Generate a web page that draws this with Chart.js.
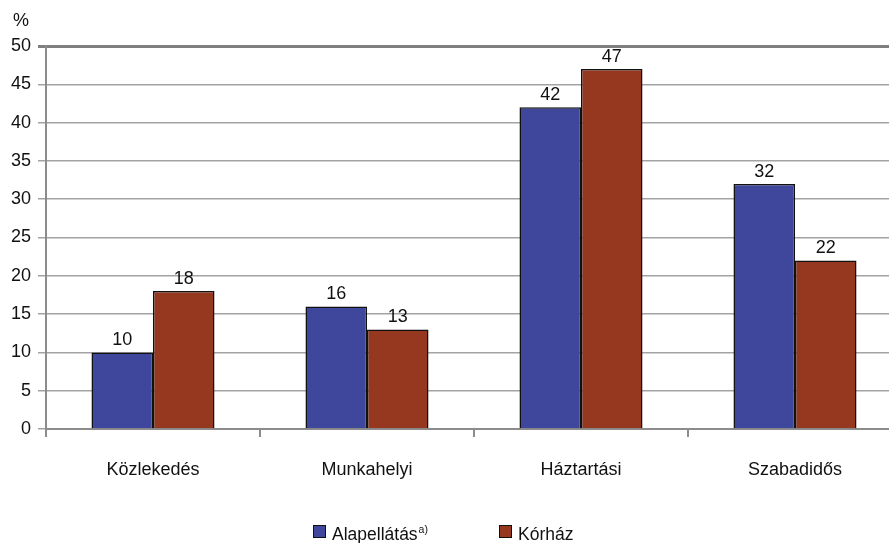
<!DOCTYPE html>
<html>
<head>
<meta charset="utf-8">
<script src="https://cdn.jsdelivr.net/npm/chart.js@4/dist/chart.umd.min.js"></script>
<style>
  html, body { margin: 0; padding: 0; background: #fff; overflow: hidden; }
  #wrap { position: relative; width: 910px; height: 543px; }
</style>
</head>
<body>
<div id="wrap"><canvas id="c"></canvas></div>
<script>
// Injury location shares (%) by care type
const categories = ['Közlekedés', 'Munkahelyi', 'Háztartási', 'Szabadidős'];
const seriesNames = ['Alapellátás', 'Kórház'];
const alapellatas = [10, 16, 42, 32];
const korhaz = [18, 13, 47, 22];
const yTicks = [0, 5, 10, 15, 20, 25, 30, 35, 40, 45, 50];
const seriesColors = ['#3f479d', '#963820'];

const FONT = '"Liberation Sans", Arial, sans-serif';

// value labels above each bar
const valueLabels = {
  id: 'valueLabels',
  afterDatasetsDraw(chart) {
    const ctx = chart.ctx;
    ctx.save();
    ctx.font = '18px ' + FONT;
    ctx.fillStyle = '#111';
    ctx.textAlign = 'center';
    ctx.textBaseline = 'alphabetic';
    chart.data.datasets.forEach((ds, di) => {
      chart.getDatasetMeta(di).data.forEach((bar, i) => {
        ctx.fillText(String(ds.data[i]), bar.x, bar.y - 7);
      });
    });
    ctx.restore();
  }
};

// unit label, and legend with superscript note
const extras = {
  id: 'extras',
  afterDraw(chart) {
    const ctx = chart.ctx;
    ctx.save();
    ctx.font = '18px ' + FONT;
    ctx.fillStyle = '#111';
    ctx.textAlign = 'left';
    ctx.textBaseline = 'alphabetic';
    ctx.fillText('%', 13, 26);

    const items = [
      { x: 313, label: seriesNames[0], sup: 'a)' },
      { x: 499, label: seriesNames[1], sup: '' }
    ];
    const boxTop = 525, box = 13;
    items.forEach((it, i) => {
      ctx.fillStyle = seriesColors[i];
      ctx.fillRect(it.x, boxTop, box, box);
      ctx.strokeStyle = '#111';
      ctx.lineWidth = 1;
      ctx.strokeRect(it.x + 0.5, boxTop + 0.5, box - 1, box - 1);
      ctx.fillStyle = '#111';
      ctx.font = '17.5px ' + FONT;
      const tx = it.x + box + 6;
      ctx.fillText(it.label, tx, 540);
      if (it.sup) {
        const w = ctx.measureText(it.label).width;
        ctx.font = '10.5px ' + FONT;
        ctx.fillText(it.sup, tx + w + 1, 533);
      }
    });
    ctx.restore();
  }
};

new Chart(document.getElementById('c'), {
  type: 'bar',
  data: {
    labels: categories,
    datasets: [
      { label: seriesNames[0], data: alapellatas, backgroundColor: seriesColors[0],
        borderColor: '#111', borderWidth: 1.5 },
      { label: seriesNames[1], data: korhaz, backgroundColor: seriesColors[1],
        borderColor: '#111', borderWidth: 1.5 }
    ]
  },
  options: {
    responsive: true,
    maintainAspectRatio: false,
    animation: false,
    layout: { padding: { top: 46, right: 8, bottom: 54, left: 0 } },
    plugins: { legend: { display: false }, tooltip: { enabled: false } },
    datasets: { bar: { categoryPercentage: 0.575, barPercentage: 1.0 } },
    scales: {
      x: {
        offset: true,
        grid: {
          offset: true,
          drawOnChartArea: false,
          drawTicks: true,
          tickLength: 8,
          color: '#8c8c8c',
          lineWidth: 2
        },
        border: { display: true, color: '#8c8c8c', width: 2 },
        ticks: { color: '#111', font: { family: FONT, size: 18 }, padding: 22 },
        afterFit(scale) { scale.height = 60; }
      },
      y: {
        min: 0,
        max: 50,
        afterBuildTicks(scale) { scale.ticks = yTicks.map(v => ({ value: v })); },
        grid: {
          drawTicks: true,
          tickLength: 8,
          color: (c) => (c.tick && c.tick.value === 50) ? '#7f7f7f' : '#a3a3a3',
          lineWidth: (c) => (c.tick && c.tick.value === 50) ? 3 : 1.5
        },
        border: { display: true, color: '#8c8c8c', width: 2 },
        ticks: { color: '#111', font: { family: FONT, size: 18 }, padding: 7 },
        afterFit(scale) { scale.width = 46; }
      }
    }
  },
  plugins: [valueLabels, extras]
});
</script>
</body>
</html>
